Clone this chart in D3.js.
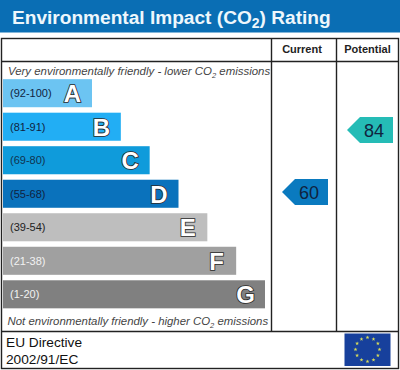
<!DOCTYPE html>
<html>
<head>
<meta charset="utf-8">
<script src="https://cdn.jsdelivr.net/npm/d3@7"></script>
<style>
html, body { margin: 0; padding: 0; background: #fff; }
svg { display: block; }
text { font-family: "Liberation Sans", Arial, sans-serif; }
</style>
</head>
<body>
<svg id="chart" width="400" height="370"></svg>
<script>
// chart data
var bands = ['A', 'B', 'C', 'D', 'E', 'F', 'G'];
var ranges = ['(92-100)', '(81-91)', '(69-80)', '(55-68)', '(39-54)', '(21-38)', '(1-20)'];
var barColors = ['#6cc4f2', '#22aef4', '#0f9bdb', '#0a72bc', '#bebebe', '#a0a0a0', '#808080'];
var rangeColors = ['#10233f', '#10233f', '#10334f', '#10233f', '#222222', '#f2f2f2', '#f2f2f2'];
var columns = ['Current', 'Potential'];
var scores = [60, 84];
var scoreColors = ['#0a7abf', '#25bcb6'];

var svg = d3.select('#chart');

// layout
var frame = {left: 1.5, right: 398.5, top: 38.5, head: 61.5, body: 331.5, bottom: 368.5};
var colX = [271.5, 336.5];

// scales
var y = d3.scaleBand().domain(bands).range([78.5, 309]).paddingInner(0.163).paddingOuter(0.02);
var barW = d3.scaleLinear().domain([0, 6]).range([92, 265]);
var scoreY = d3.scaleLinear().domain([60, 84]).range([192, 130]);

// title band
svg.append('rect').attr('width', 400).attr('height', 32.5).attr('fill', '#0a6eb4');
svg.append('text').attr('x', 12).attr('y', 23.5)
    .attr('fill', '#eef7fc').attr('font-weight', 'bold').attr('font-size', 19.1)
    .html('Environmental Impact (CO<tspan font-size="14" dy="4">2</tspan><tspan dy="-4">) Rating</tspan>');

// table frame
var lines = svg.append('g').attr('stroke', '#222').attr('stroke-width', 1.4);
lines.append('rect').attr('x', frame.left).attr('y', frame.top)
    .attr('width', frame.right - frame.left).attr('height', frame.bottom - frame.top).attr('fill', 'none');
[frame.head, frame.body].forEach(function(d) {
    lines.append('line').attr('x1', frame.left).attr('x2', frame.right).attr('y1', d).attr('y2', d);
});
colX.forEach(function(d) {
    lines.append('line').attr('x1', d).attr('x2', d).attr('y1', frame.top).attr('y2', frame.body);
});

// column heads
svg.selectAll('.head').data(columns).enter().append('text')
    .attr('class', 'head')
    .attr('x', function(d, i) { return i ? 367.5 : 302; })
    .attr('y', 53)
    .attr('text-anchor', 'middle').attr('font-weight', 'bold').attr('font-size', 11).attr('fill', '#222')
    .text(function(d) { return d; });

// top and bottom captions
function caption(yPos, xPos, size, start) {
    svg.append('text').attr('x', xPos).attr('y', yPos)
        .attr('font-style', 'italic').attr('font-size', size).attr('fill', '#444')
        .html(start + ' CO<tspan font-size="7.5" dy="2.5">2</tspan><tspan dy="-2.5"> emissions</tspan>');
}
caption(75, 8, 11.43, 'Very environmentally friendly - lower');
caption(325, 7.5, 11.4, 'Not environmentally friendly - higher');

// bars
var rows = svg.selectAll('.row').data(bands).enter().append('g').attr('class', 'row');
rows.append('rect')
    .attr('x', 3)
    .attr('y', function(d) { return y(d); })
    .attr('width', function(d, i) { return barW(i) - 3; })
    .attr('height', y.bandwidth())
    .attr('fill', function(d, i) { return barColors[i]; });
rows.append('text')
    .attr('x', 10)
    .attr('y', function(d) { return y(d) + y.bandwidth() / 2 + 4; })
    .attr('font-size', 11).attr('fill', function(d, i) { return rangeColors[i]; })
    .text(function(d, i) { return ranges[i]; });
rows.append('text')
    .attr('x', function(d, i) { return barW(i) - 19.5; })
    .attr('y', function(d) { return y(d) + y.bandwidth() / 2 + 9; })
    .attr('text-anchor', 'middle').attr('font-weight', 'bold').attr('font-size', 24)
    .attr('fill', '#fff').attr('stroke', '#2a2a2a').attr('stroke-width', 1.7)
    .attr('paint-order', 'stroke')
    .text(function(d) { return d; });

// score arrows
var arrow = d3.line();
var flags = svg.selectAll('.flag').data(scores).enter().append('g').attr('class', 'flag')
    .attr('transform', function(d, i) {
        return 'translate(' + (i ? 393 : 328) + ',' + scoreY(d) + ')';
    });
flags.append('path')
    .attr('d', arrow([[0, -13], [0, 13], [-33, 13], [-46, 0], [-33, -13]]))
    .attr('fill', function(d, i) { return scoreColors[i]; });
flags.append('text')
    .attr('x', -19).attr('y', 6.5).attr('text-anchor', 'middle')
    .attr('font-size', 18).attr('fill', '#10233f')
    .text(function(d) { return d; });

// footer
svg.append('text').attr('x', 6).attr('y', 346.5).attr('font-size', 13.7).attr('fill', '#111').text('EU Directive');
svg.append('text').attr('x', 6).attr('y', 364).attr('font-size', 13.7).attr('fill', '#111').text('2002/91/EC');

// EU flag
var flag = svg.append('g').attr('transform', 'translate(368,350)');
flag.append('rect').attr('x', -23.5).attr('y', -16.5).attr('width', 46).attr('height', 32.5).attr('fill', '#17409c');
var star = d3.symbol().type(d3.symbolStar).size(5);
flag.selectAll('path.star').data(d3.range(12)).enter().append('path')
    .attr('class', 'star')
    .attr('d', star)
    .attr('fill', '#d8dc5a')
    .attr('transform', function(d) {
        var a = d / 12 * 2 * Math.PI;
        return 'translate(' + (12 * Math.sin(a) - 0.5) + ',' + (-12 * Math.cos(a) - 0.5) + ')';
    });
</script>
</body>
</html>
